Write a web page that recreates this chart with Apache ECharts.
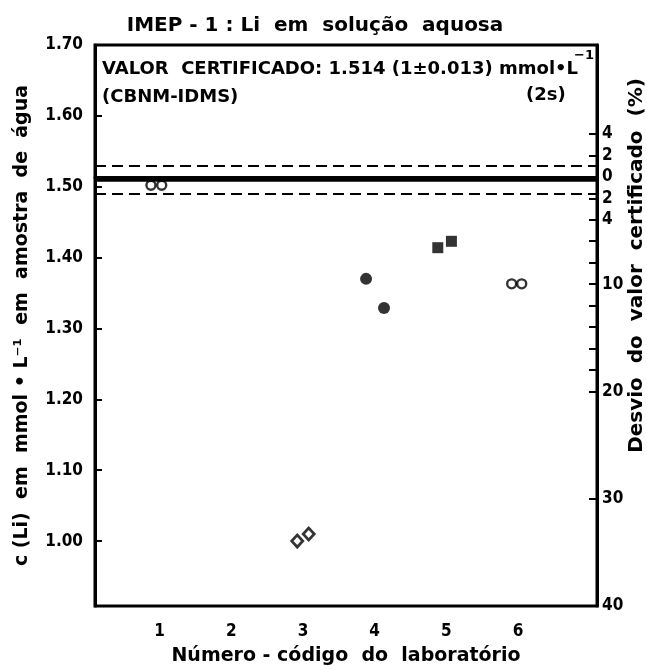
<!DOCTYPE html>
<html>
<head>
<meta charset="utf-8">
<script src="https://cdn.jsdelivr.net/npm/echarts@6/dist/echarts.min.js"></script>
<style>
  html, body { margin: 0; padding: 0; background: #fff; }
  #chart { width: 647px; height: 670px; }
</style>
</head>
<body>
<div id="chart"></div>
<script>
// certified value and its relative uncertainty (2s)
const certValue = 1.514
const certUnc = 0.013

// lab code on x, c(Li) in mmol/L on y
const lab1X = [0.88, 1.03], lab1Y = [1.502, 1.502]
const lab3X = [2.92, 3.08], lab3Y = [1.000, 1.010]
const lab4X = [3.88, 4.13], lab4Y = [1.370, 1.329]
const lab5X = [4.88, 5.07], lab5Y = [1.414, 1.423]
const lab6X = [5.91, 6.05], lab6Y = [1.363, 1.363]

const xLabels = [1, 2, 3, 4, 5, 6]
const leftTicks = [1.0, 1.1, 1.2, 1.3, 1.4, 1.5, 1.6]
const leftLabels = [1.0, 1.1, 1.2, 1.3, 1.4, 1.5, 1.6, 1.7]
const rightTicks = [-4, -2, 2, 4, 6, 8, 10, 12, 14, 16, 18, 20, 30, 40]
const rightLabels = [-4, -2, 0, 2, 4, 10, 20, 30, 40]

// left range; right axis is the deviation from the certified value
const yMax = 1.70, devMax = 40
const yMin = certValue * (1 - devMax / 100)
const devMin = (1 - yMax / certValue) * 100

const FONT = "DejaVu Sans"
const NUMFONT = "'Liberation Sans Narrow', 'DejaVu Sans Condensed'"

function pairs(xs, ys) {
    return xs.map((x, i) => [x, ys[i]])
}

const chart = echarts.init(document.getElementById("chart"))

const numStyle = { fontFamily: NUMFONT, fontWeight: "bold", fontSize: 17, color: "#000" }
const nameStyle = { fontFamily: FONT, fontWeight: "bold", fontSize: 19, color: "#000" }

const option = {
    animation: false,
    backgroundColor: "#fff",
    title: {
        text: "IMEP - 1 : Li  em  solução  aquosa",
        left: 310, top: 11, textAlign: "center",
        textStyle: { fontFamily: FONT, fontWeight: "bold", fontSize: 20, color: "#000" }
    },
    grid: {
        left: 95, right: 50, top: 45, bottom: 64,
        outerBoundsMode: "none", containLabel: false,
        show: true, borderColor: "#000", borderWidth: 3
    },
    xAxis: {
        type: "value", min: 0.1, max: 7.1,
        name: "Número - código  do  laboratório",
        nameLocation: "middle", nameGap: 41, nameMoveOverlap: false,
        nameTextStyle: nameStyle,
        axisLine: { lineStyle: { color: "#000", width: 3 } },
        axisTick: { show: false },
        splitLine: { show: false },
        axisLabel: Object.assign({ customValues: xLabels, margin: 17 }, numStyle)
    },
    yAxis: [{
        type: "value", min: yMin, max: yMax, position: "left",
        name: "c (Li)  em  mmol • L⁻¹  em  amostra  de  água",
        nameLocation: "middle", nameRotate: 90, nameGap: 63, nameMoveOverlap: false,
        nameTextStyle: nameStyle,
        axisLine: { show: true, lineStyle: { color: "#000", width: 3 } },
        axisTick: { show: true, inside: true, length: 7, customValues: leftTicks, lineStyle: { color: "#000", width: 2 } },
        splitLine: { show: false },
        axisLabel: Object.assign({
            customValues: leftLabels, margin: 12,
            formatter: v => v.toFixed(2)
        }, numStyle)
    }, {
        type: "value", min: devMin, max: devMax, inverse: true, position: "right",
        name: "Desvio  do  valor  certificado  (%)",
        nameLocation: "middle", nameRotate: 90, nameGap: 30, nameMoveOverlap: false,
        nameTextStyle: Object.assign({}, nameStyle, { fontSize: 20, padding: [0, 0, 0, 120] }),
        axisLine: { show: true, lineStyle: { color: "#000", width: 3 } },
        axisTick: { show: true, inside: true, length: 8, customValues: rightTicks, lineStyle: { color: "#000", width: 2 } },
        splitLine: { show: false },
        axisLabel: Object.assign({
            customValues: rightLabels, margin: 5,
            formatter: v => String(Math.abs(Math.round(v)))
        }, numStyle)
    }],
    graphic: [{
        type: "text", left: 102, top: 60,
        style: {
            text: "VALOR  CERTIFICADO: 1.514 (1±0.013) mmol•L",
            fontFamily: FONT, fontWeight: "bold", fontSize: 18, fill: "#000"
        }
    }, {
        type: "text", left: 574, top: 49,
        style: { text: "−1", fontFamily: FONT, fontWeight: "bold", fontSize: 13, fill: "#000" }
    }, {
        type: "text", left: 102, top: 88,
        style: { text: "(CBNM-IDMS)", fontFamily: FONT, fontWeight: "bold", fontSize: 18, fill: "#000" }
    }, {
        type: "text", left: 526, top: 86,
        style: { text: "(2s)", fontFamily: FONT, fontWeight: "bold", fontSize: 18, fill: "#000" }
    }],
    series: [{
        name: "ref", type: "line", data: [], yAxisIndex: 0,
        markLine: {
            silent: true, symbol: "none", label: { show: false },
            data: [
                { yAxis: certValue, lineStyle: { type: "solid", width: 4.5, color: "#000" } },
                { yAxis: certValue * (1 + certUnc), lineStyle: { type: [11, 6], width: 2.2, color: "#000" } },
                { yAxis: certValue * (1 - certUnc), lineStyle: { type: [11, 6], width: 2.2, color: "#000" } }
            ]
        }
    }, {
        name: "lab1", type: "scatter", data: pairs(lab1X, lab1Y),
        symbol: "circle", symbolSize: 9,
        itemStyle: { color: "#fff", borderColor: "#000", borderWidth: 2.4 }
    }, {
        name: "lab3", type: "scatter", data: pairs(lab3X, lab3Y),
        symbol: "diamond", symbolSize: [11, 12],
        itemStyle: { color: "#fff", borderColor: "#000", borderWidth: 2.8 }
    }, {
        name: "lab4", type: "scatter", data: pairs(lab4X, lab4Y),
        symbol: "circle", symbolSize: 12,
        itemStyle: { color: "#000" }
    }, {
        name: "lab5", type: "scatter", data: pairs(lab5X, lab5Y),
        symbol: "rect", symbolSize: 11,
        itemStyle: { color: "#000" }
    }, {
        name: "lab6", type: "scatter", data: pairs(lab6X, lab6Y),
        symbol: "circle", symbolSize: 9,
        itemStyle: { color: "#fff", borderColor: "#000", borderWidth: 2.4 }
    }]
}

chart.setOption(option)
</script>
</body>
</html>
